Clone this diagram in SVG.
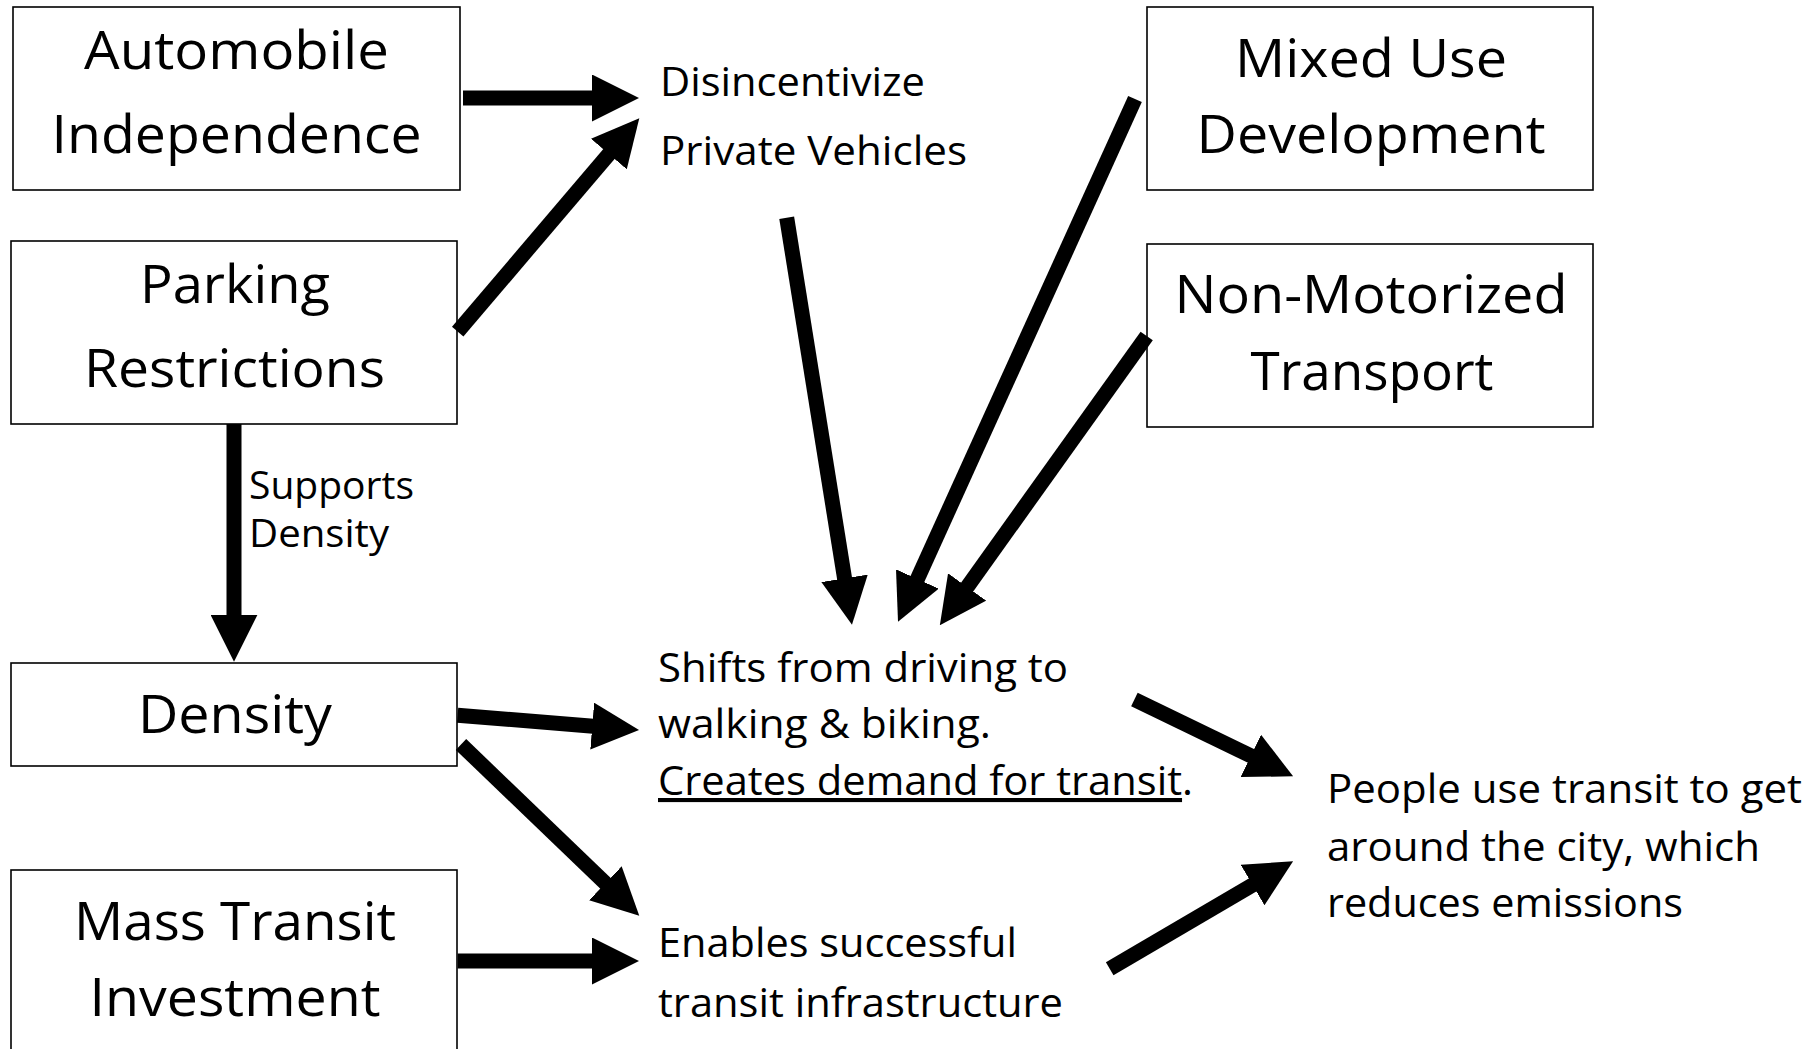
<svg xmlns="http://www.w3.org/2000/svg" width="1812" height="1049" viewBox="0 0 1812 1049">
  <style>
    .box { fill: #ffffff; stroke: #000000; stroke-width: 1.6; }
    .big { font-family: "Open Sans", "Noto Sans", sans-serif; font-size: 53px; fill: #000000; text-anchor: middle; }
    .mid { font-family: "Open Sans", "Noto Sans", sans-serif; font-size: 41px; fill: #000000; }
    .small { font-family: "Open Sans", "Noto Sans", sans-serif; font-size: 38px; fill: #000000; }
    .arrow { fill: none; stroke: #000000; stroke-width: 15; stroke-linecap: butt; marker-end: url(#head); }
  </style>
  <defs>
    <marker id="head" markerUnits="userSpaceOnUse" markerWidth="47" markerHeight="47" viewBox="0 0 47 47" refX="1" refY="23.5" orient="auto">
      <path d="M0,0 L47,23.5 L0,47 Z" fill="#000000"/>
    </marker>
  </defs>
  <rect x="0" y="0" width="1812" height="1049" fill="#ffffff"/>

  <g id="automobile-independence">
    <rect class="box" x="13" y="7" width="447" height="183"/>
    <text class="big" x="236.5" y="69" textLength="305" lengthAdjust="spacingAndGlyphs">Automobile</text>
    <text class="big" x="236.5" y="153" textLength="370" lengthAdjust="spacingAndGlyphs">Independence</text>
  </g>

  <g id="parking-restrictions">
    <rect class="box" x="11" y="241" width="446" height="183"/>
    <text class="big" x="235" y="303" textLength="190" lengthAdjust="spacingAndGlyphs">Parking</text>
    <text class="big" x="234.5" y="387" textLength="301" lengthAdjust="spacingAndGlyphs">Restrictions</text>
  </g>

  <g id="mixed-use-development">
    <rect class="box" x="1147" y="7" width="446" height="183"/>
    <text class="big" x="1371" y="77" textLength="272" lengthAdjust="spacingAndGlyphs">Mixed Use</text>
    <text class="big" x="1371" y="153" textLength="349" lengthAdjust="spacingAndGlyphs">Development</text>
  </g>

  <g id="non-motorized-transport">
    <rect class="box" x="1147" y="244" width="446" height="183"/>
    <text class="big" x="1371" y="313" textLength="393" lengthAdjust="spacingAndGlyphs">Non-Motorized</text>
    <text class="big" x="1372" y="390" textLength="243" lengthAdjust="spacingAndGlyphs">Transport</text>
  </g>

  <g id="density">
    <rect class="box" x="11" y="663" width="446" height="103"/>
    <text class="big" x="235" y="733" textLength="194" lengthAdjust="spacingAndGlyphs">Density</text>
  </g>

  <g id="mass-transit-investment">
    <rect class="box" x="11" y="870" width="446" height="200"/>
    <text class="big" x="235" y="940" textLength="322" lengthAdjust="spacingAndGlyphs">Mass Transit</text>
    <text class="big" x="235" y="1016" textLength="291" lengthAdjust="spacingAndGlyphs">Investment</text>
  </g>

  <g id="disincentivize-private-vehicles">
    <text class="mid" x="660" y="96" textLength="265" lengthAdjust="spacingAndGlyphs">Disincentivize</text>
    <text class="mid" x="660" y="165" textLength="307" lengthAdjust="spacingAndGlyphs">Private Vehicles</text>
  </g>

  <g id="shifts-walking-biking">
    <text class="mid" x="658" y="682" textLength="410" lengthAdjust="spacingAndGlyphs">Shifts from driving to</text>
    <text class="mid" x="658" y="738" textLength="333" lengthAdjust="spacingAndGlyphs">walking &amp; biking.</text>
    <text class="mid" x="658" y="795" textLength="535" lengthAdjust="spacingAndGlyphs"><tspan text-decoration="underline">Creates demand for transit</tspan>.</text>
  </g>

  <g id="enables-transit-infrastructure">
    <text class="mid" x="658" y="957" textLength="359" lengthAdjust="spacingAndGlyphs">Enables successful</text>
    <text class="mid" x="658" y="1016.5" textLength="405" lengthAdjust="spacingAndGlyphs">transit infrastructure</text>
  </g>

  <g id="people-use-transit">
    <text class="mid" x="1327" y="803" textLength="475" lengthAdjust="spacingAndGlyphs">People use transit to get</text>
    <text class="mid" x="1327" y="860.5" textLength="433" lengthAdjust="spacingAndGlyphs">around the city, which</text>
    <text class="mid" x="1327" y="917" textLength="356" lengthAdjust="spacingAndGlyphs">reduces emissions</text>
  </g>

  <g id="connectors">
    <line class="arrow" x1="463" y1="98" x2="593" y2="98"/>
    <line class="arrow" x1="457.7" y1="331.7" x2="609.5" y2="153.3"/>
    <line class="arrow" x1="786.7" y1="217.7" x2="844.7" y2="579.3"/>
    <line class="arrow" x1="1135" y1="99" x2="917" y2="579.9"/>
    <line class="arrow" x1="1146.7" y1="336" x2="966.6" y2="587.8"/>
    <line class="arrow" x1="457.6" y1="715.2" x2="593.2" y2="726.2"/>
    <line class="arrow" x1="461" y1="744.5" x2="606.1" y2="883.9"/>
    <line class="arrow" x1="457.6" y1="961" x2="593" y2="961"/>
    <line class="arrow" x1="1134.4" y1="699.6" x2="1251.7" y2="756.3"/>
    <line class="arrow" x1="1109.7" y1="968.7" x2="1253.4" y2="884.5"/>
    <line class="arrow" x1="234" y1="424" x2="234" y2="615.7"/>
    <g id="supports-density-label">
      <text class="small" x="249" y="499.3" textLength="165" lengthAdjust="spacingAndGlyphs">Supports</text>
      <text class="small" x="249" y="547.3" textLength="140" lengthAdjust="spacingAndGlyphs">Density</text>
    </g>
  </g>
</svg>
